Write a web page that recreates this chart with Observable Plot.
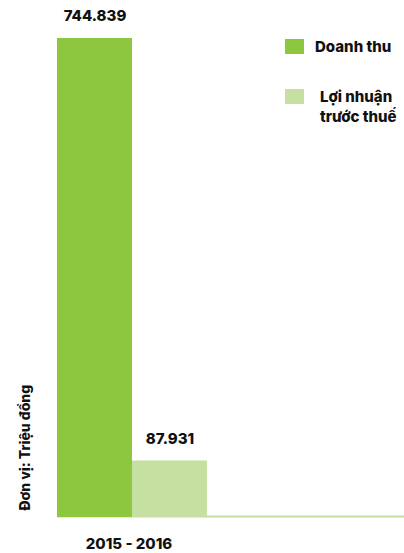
<!DOCTYPE html>
<html>
<head>
<meta charset="utf-8">
<script src="https://cdn.jsdelivr.net/npm/d3@7"></script>
<script src="https://cdn.jsdelivr.net/npm/@observablehq/plot@0.6"></script>
<style>
  html, body { margin: 0; padding: 0; background: #fff; }
  #wrap { position: relative; width: 404px; height: 553px; font-family: Inter, "Noto Sans", sans-serif; }
  #legend { position: absolute; left: 285px; top: 39px; font-weight: 800; font-size: 15px; color: #111; }
  .item { display: flex; align-items: flex-start; }
  .sw { width: 19px; height: 15px; flex: none; }
  .lbl { line-height: 20px; margin-top: -2px; }
</style>
</head>
<body>
<div id="wrap"></div>
<script>
const categories = ["Doanh thu", "Lợi nhuận trước thuế"];
const values = [744.839, 87.931];
const valueLabels = ["744.839", "87.931"];
const colors = ["#8dc63f", "#c5e0a0"];
const period = "2015 - 2016";
const unitLabel = "Đơn vị: Triệu đồng";

const data = categories.map((c, i) => ({category: c, value: values[i], label: valueLabels[i], color: colors[i]}));

const chart = Plot.plot({
  width: 404,
  height: 553,
  marginLeft: 57,
  marginRight: 0,
  marginTop: 38,
  marginBottom: 36,
  style: {fontFamily: "Inter, 'Noto Sans', sans-serif", background: "#fff"},
  x: {domain: categories, range: [57, 207], padding: 0, axis: null},
  y: {domain: [0, values[0]], axis: null},
  marks: [
    Plot.ruleY([0], {stroke: colors[1], strokeWidth: 2, dy: -1}),
    Plot.barY(data.slice().reverse(), {x: "category", y: "value", fill: "color"}),
    Plot.text(data, {x: "category", y: "value", text: "label", dy: -22, fontSize: 15, fontWeight: 800, fill: "#111"}),
    Plot.text([period], {x: () => categories[0], frameAnchor: "bottom", dx: 34, dy: 31, fontSize: 15, fontWeight: 800, fill: "#111", text: d => d}),
    Plot.text([unitLabel], {frameAnchor: "bottom-left", rotate: -90, textAnchor: "start", dx: -28, dy: -7, fontSize: 14, fontWeight: 800, fill: "#111", text: d => d})
  ]
});

const wrap = document.getElementById("wrap");
wrap.appendChild(chart);
const legend = document.createElement("div");
legend.id = "legend";
legend.innerHTML = `
  <div class="item"><div class="sw" style="background:${colors[0]}"></div><div class="lbl" style="margin-left:11px">${categories[0]}</div></div>
  <div class="item" style="margin-top:32px"><div class="sw" style="background:${colors[1]}"></div><div class="lbl" style="margin-left:16px">Lợi nhuận<br>trước thuế</div></div>`;
wrap.appendChild(legend);
</script>
</body>
</html>
